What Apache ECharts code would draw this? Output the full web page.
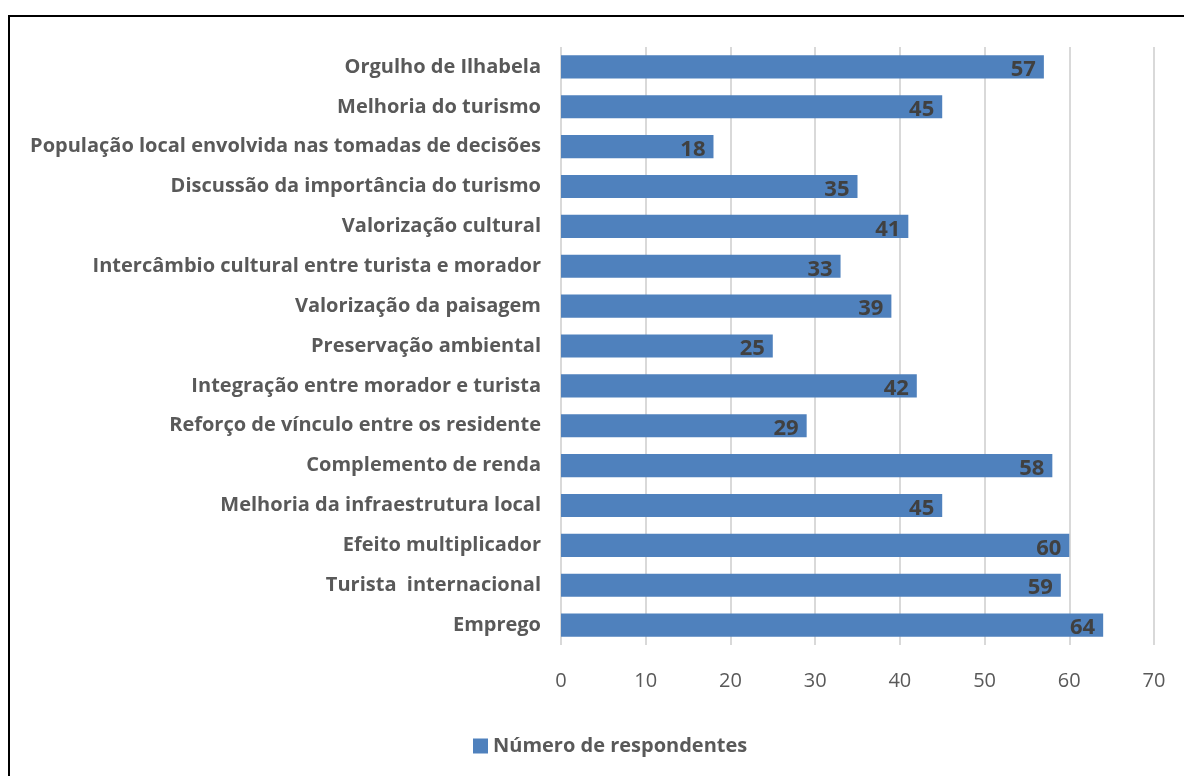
<!DOCTYPE html>
<html>
<head>
<meta charset="utf-8">
<script src="https://cdn.jsdelivr.net/npm/echarts@6/dist/echarts.min.js"></script>
<style>
  html, body { margin: 0; padding: 0; background: #fff; }
  #chart { width: 1184px; height: 776px; }
</style>
</head>
<body>
<div id="chart"></div>
<script>
// categories listed bottom -> top (category axis on y starts at the bottom)
var categories = [
  'Emprego',
  'Turista  internacional',
  'Efeito multiplicador',
  'Melhoria da infraestrutura local',
  'Complemento de renda',
  'Reforço de vínculo entre os residente',
  'Integração entre morador e turista',
  'Preservação ambiental',
  'Valorização da paisagem',
  'Intercâmbio cultural entre turista e morador',
  'Valorização cultural',
  'Discussão da importância do turismo',
  'População local envolvida nas tomadas de decisões',
  'Melhoria do turismo',
  'Orgulho de Ilhabela'
];
var respondentes = [64, 59, 60, 45, 58, 29, 42, 25, 39, 33, 41, 35, 18, 45, 57];
var seriesName = 'Número de respondentes';

var chart = echarts.init(document.getElementById('chart'));
var fontFam = 'Open Sans';

var option = {
  animation: false,
  graphic: [{
    type: 'rect',
    shape: { x: 9, y: 16, width: 1300, height: 900 },
    style: { fill: 'none', stroke: '#000', lineWidth: 2 }
  }],
  grid: { left: 561, right: 30, top: 47, bottom: 131, containLabel: false },
  legend: {
    data: [seriesName],
    left: 468,
    top: 731,
    itemWidth: 15,
    itemHeight: 15,
    itemGap: 6,
    icon: 'rect',
    textStyle: { color: '#595959', fontSize: 20, fontWeight: 'bold', fontFamily: fontFam }
  },
  xAxis: {
    type: 'value',
    min: 0,
    max: 70,
    interval: 10,
    axisLine: { show: false },
    axisTick: { show: false },
    splitLine: { lineStyle: { color: '#D9D9D9', width: 2 } },
    axisLabel: { color: '#595959', fontSize: 20, fontFamily: fontFam, margin: 26 }
  },
  yAxis: {
    type: 'category',
    data: categories,
    axisLine: { show: false },
    axisTick: { show: false },
    axisLabel: { color: '#595959', fontSize: 20, fontWeight: 'bold', fontFamily: fontFam, margin: 20 }
  },
  series: [{
    name: seriesName,
    type: 'bar',
    data: respondentes,
    barCategoryGap: '42%',
    itemStyle: { color: '#4F81BD' },
    label: {
      show: true,
      position: 'insideRight',
      distance: 8,
      offset: [0, 3],
      color: '#404040',
      fontSize: 22,
      fontWeight: 'bold',
      fontFamily: fontFam
    }
  }]
};
chart.setOption(option);
</script>
</body>
</html>
